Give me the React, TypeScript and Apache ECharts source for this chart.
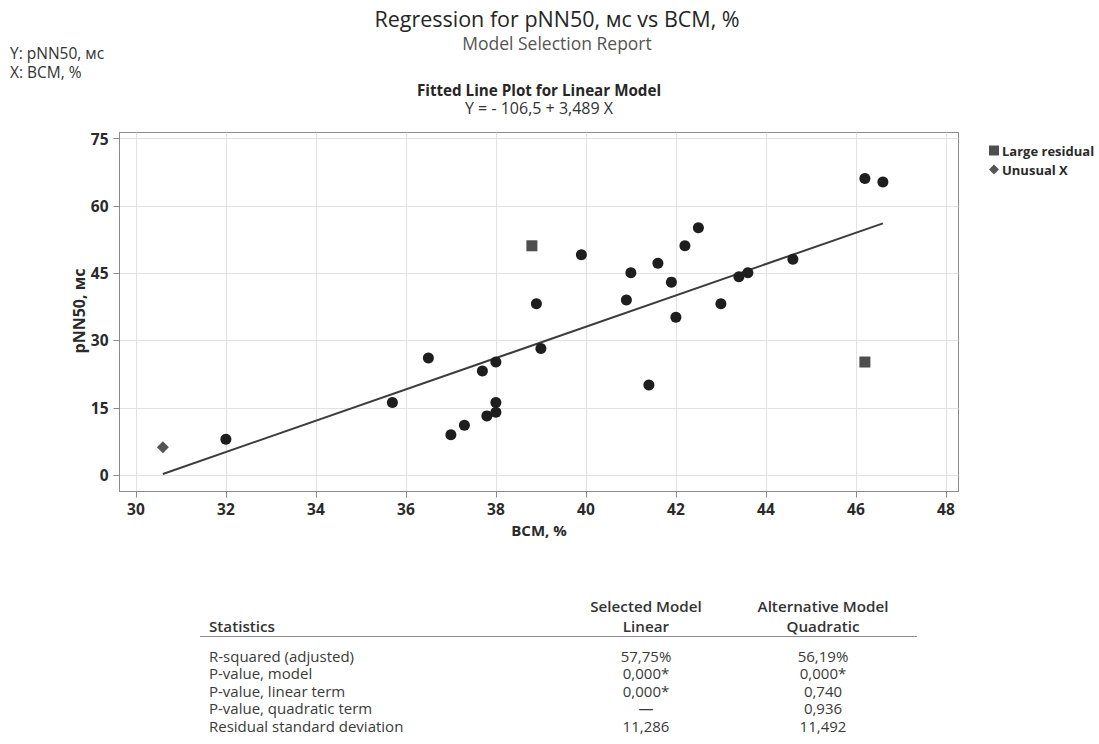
import React, { useEffect, useRef } from "react";
import * as echarts from "echarts";

// Regular observations
const circleX = [32, 35.7, 36.5, 37, 37.3, 37.7, 37.8, 38, 38, 38, 38.9, 39, 39.9, 40.9, 41, 41.4, 41.6, 41.9, 42, 42.2, 42.5, 43, 43.4, 43.6, 44.6, 46.2, 46.6];
const circleY = [8, 16.2, 26.1, 9, 11.1, 23.2, 13.2, 25.2, 16.2, 14, 38.2, 28.2, 49.1, 39, 45.1, 20.1, 47.2, 43, 35.2, 51.1, 55.1, 38.2, 44.2, 45.1, 48.1, 66.1, 65.3];
// Large residual observations
const residualX = [38.8, 46.2];
const residualY = [51.1, 25.2];
// Unusual X observations
const unusualX = [30.6];
const unusualY = [6.2];
// Fitted line end points (Y = -106.5 + 3.489 X)
const fitX = [30.6, 46.6];
const fitY = [0.26, 56.1];

const xTicks = [30, 32, 34, 36, 38, 40, 42, 44, 46, 48];
const yTicks = [0, 15, 30, 45, 60, 75];

const statLabels = ["R-squared (adjusted)", "P-value, model", "P-value, linear term", "P-value, quadratic term", "Residual standard deviation"];
const linearValues = ["57,75%", "0,000*", "0,000*", "—", "11,286"];
const quadraticValues = ["56,19%", "0,000*", "0,740", "0,936", "11,492"];

const FONT = "'Open Sans', 'Noto Sans', sans-serif";

export default function App() {
  const ref = useRef<HTMLDivElement>(null);
  useEffect(() => {
    if (!ref.current) return;
    const chart = echarts.init(ref.current, null, { renderer: "svg" });
    const zip = (xs: number[], ys: number[]) => xs.map((x, i) => [x, ys[i]]);

    const rowY0 = 656;
    const rowStep = 17.4;
    const tableTexts: any[] = [];
    statLabels.forEach((s, i) => {
      const y = rowY0 + i * rowStep;
      tableTexts.push({ type: "text", style: { x: 209, y, text: s, fill: "#3a3a3a", font: `15px ${FONT}`, textAlign: "left", textVerticalAlign: "middle" } });
      tableTexts.push({ type: "text", style: { x: 646, y, text: linearValues[i], fill: "#3a3a3a", font: `15px ${FONT}`, textAlign: "center", textVerticalAlign: "middle" } });
      tableTexts.push({ type: "text", style: { x: 823, y, text: quadraticValues[i], fill: "#3a3a3a", font: `15px ${FONT}`, textAlign: "center", textVerticalAlign: "middle" } });
    });

    const axisText = { fontFamily: FONT, fontWeight: "bold", fontSize: 15.5, color: "#2a2a2a" };

    chart.setOption({
      animation: false,
      backgroundColor: "#ffffff",
      grid: { left: 119.5, top: 132.5, right: 140.5, bottom: 252.5, show: true, borderColor: "#8a8a8a", borderWidth: 1, containLabel: false },
      xAxis: {
        type: "value",
        min: 29.636,
        max: 48.28,
        name: "BCM, %",
        nameLocation: "middle",
        nameGap: 31,
        nameTextStyle: { ...axisText, fontSize: 15 },
        axisLine: { show: true, onZero: false, lineStyle: { color: "#8a8a8a" } },
        axisTick: { show: true, inside: false, length: 6, customValues: xTicks, lineStyle: { color: "#8a8a8a" } },
        axisLabel: { customValues: xTicks, margin: 9, ...axisText },
        splitLine: { show: true, lineStyle: { color: "#e2e2e2", width: 1 } },
      },
      yAxis: {
        type: "value",
        min: -3.65,
        max: 76.34,
        axisLine: { show: true, onZero: false, lineStyle: { color: "#8a8a8a" } },
        axisTick: { show: true, inside: false, length: 6, customValues: yTicks, lineStyle: { color: "#8a8a8a" } },
        axisLabel: { customValues: yTicks, margin: 11, ...axisText },
        splitLine: { show: true, lineStyle: { color: "#e2e2e2", width: 1 } },
      },
      legend: {
        orient: "vertical",
        left: 984,
        top: 139,
        itemWidth: 10,
        itemHeight: 10,
        itemGap: 6,
        data: ["Large residual", "Unusual X"],
        textStyle: { fontFamily: FONT, fontWeight: "bold", fontSize: 13, color: "#2a2a2a", padding: [0, 0, 0, -2] },
      },
      series: [
        {
          name: "Fit",
          type: "line",
          data: zip(fitX, fitY),
          symbol: "none",
          lineStyle: { color: "#3c3c3c", width: 2 },
          z: 1,
        },
        {
          name: "Observations",
          type: "scatter",
          data: zip(circleX, circleY),
          symbol: "circle",
          symbolSize: 11,
          itemStyle: { color: "#1e1e1e", opacity: 1 },
          z: 3,
        },
        {
          name: "Large residual",
          type: "scatter",
          data: zip(residualX, residualY),
          symbol: "rect",
          symbolSize: 11,
          itemStyle: { color: "#4e4e4e", opacity: 1 },
          z: 3,
        },
        {
          name: "Unusual X",
          type: "scatter",
          data: zip(unusualX, unusualY),
          symbol: "diamond",
          symbolSize: 12,
          itemStyle: { color: "#555555", opacity: 1 },
          z: 3,
        },
      ],
      graphic: [
        { type: "text", style: { x: 557, y: 18, text: "Regression for pNN50, мс vs BCM, %", fill: "#262626", font: `21.5px ${FONT}`, textAlign: "center", textVerticalAlign: "middle" } },
        { type: "text", style: { x: 557, y: 43, text: "Model Selection Report", fill: "#555555", font: `17.5px ${FONT}`, textAlign: "center", textVerticalAlign: "middle" } },
        { type: "text", style: { x: 10, y: 53, text: "Y: pNN50, мс", fill: "#333333", font: `15.5px ${FONT}`, textAlign: "left", textVerticalAlign: "middle" } },
        { type: "text", style: { x: 10, y: 72, text: "X: BCM, %", fill: "#333333", font: `15.5px ${FONT}`, textAlign: "left", textVerticalAlign: "middle" } },
        { type: "text", style: { x: 539, y: 90, text: "Fitted Line Plot for Linear Model", fill: "#262626", font: `bold 15.2px ${FONT}`, textAlign: "center", textVerticalAlign: "middle" } },
        { type: "text", style: { x: 539, y: 107.5, text: "Y = - 106,5 + 3,489 X", fill: "#333333", font: `16px ${FONT}`, textAlign: "center", textVerticalAlign: "middle" } },
        { type: "text", x: 79, y: 311, rotation: Math.PI / 2, style: { x: 0, y: 0, text: "pNN50, мс", fill: "#2a2a2a", font: `bold 16px ${FONT}`, textAlign: "center", textVerticalAlign: "middle" } },
        { type: "text", style: { x: 646, y: 606, text: "Selected Model", fill: "#333333", font: `600 15.2px ${FONT}`, textAlign: "center", textVerticalAlign: "middle" } },
        { type: "text", style: { x: 646, y: 626, text: "Linear", fill: "#333333", font: `600 15.2px ${FONT}`, textAlign: "center", textVerticalAlign: "middle" } },
        { type: "text", style: { x: 823, y: 606, text: "Alternative Model", fill: "#333333", font: `600 15.2px ${FONT}`, textAlign: "center", textVerticalAlign: "middle" } },
        { type: "text", style: { x: 823, y: 626, text: "Quadratic", fill: "#333333", font: `600 15.2px ${FONT}`, textAlign: "center", textVerticalAlign: "middle" } },
        { type: "text", style: { x: 209, y: 626, text: "Statistics", fill: "#333333", font: `600 15.2px ${FONT}`, textAlign: "left", textVerticalAlign: "middle" } },
        { type: "line", shape: { x1: 200, y1: 636.5, x2: 917, y2: 636.5 }, style: { stroke: "#8a8a8a", lineWidth: 1 } },
        ...tableTexts,
      ],
    });
    return () => chart.dispose();
  }, []);
  return <div ref={ref} style={{ position: "fixed", left: 0, top: 0, width: 1099, height: 744, background: "#fff" }} />;
}
